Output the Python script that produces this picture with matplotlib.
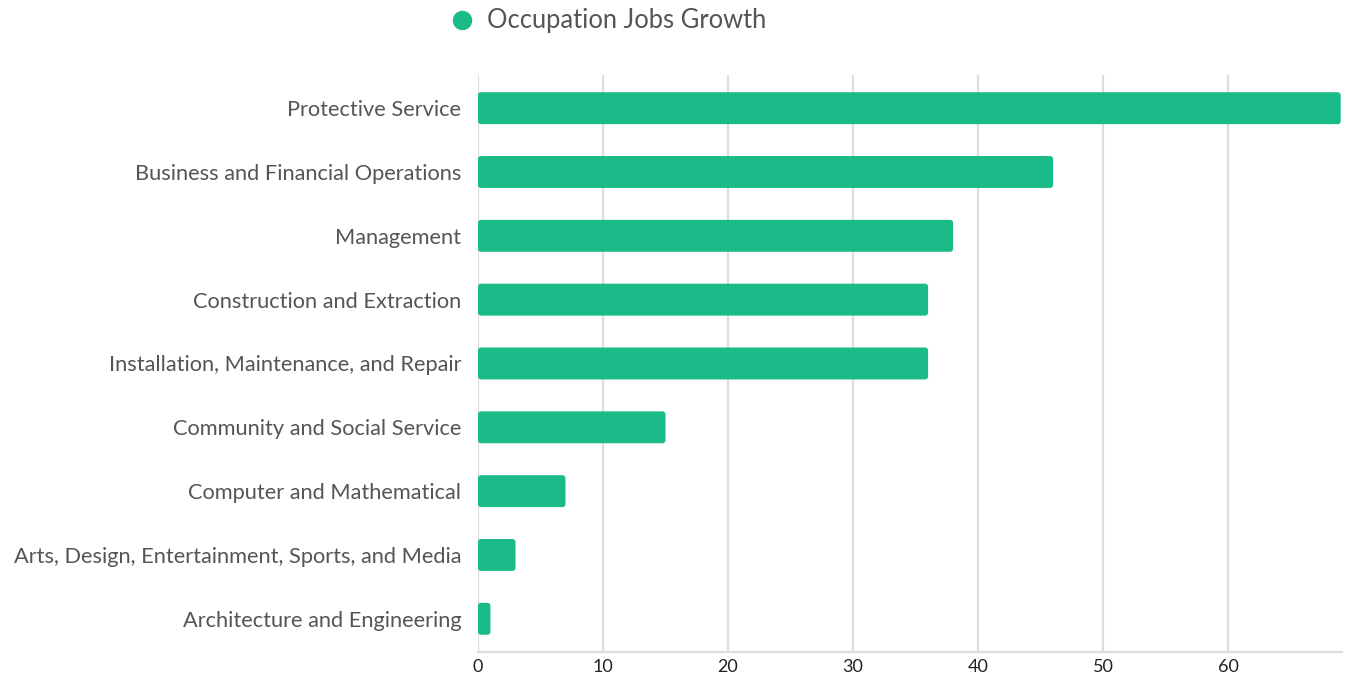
import matplotlib.pyplot as plt
from matplotlib.patches import FancyBboxPatch
from matplotlib.lines import Line2D

# data
categories = [
    "Protective Service",
    "Business and Financial Operations",
    "Management",
    "Construction and Extraction",
    "Installation, Maintenance, and Repair",
    "Community and Social Service",
    "Computer and Mathematical",
    "Arts, Design, Entertainment, Sports, and Media",
    "Architecture and Engineering",
]
growth = [69, 46, 38, 36, 36, 15, 7, 3, 1]
ticks = [0, 10, 20, 30, 40, 50, 60]

green = "#1bba89"
text_col = "#555555"
grid_col = "#dddddd"

plt.rcParams['font.family'] = ['Lato', 'DejaVu Sans']

fig = plt.figure(figsize=(13.54, 6.81), dpi=100)
ax = fig.add_axes([0.3530, 0.0426, 0.6381, 0.8473])

y = list(range(len(categories)))
bars = ax.barh(y, growth, height=0.5, color=green, zorder=3)

# swap the plain rectangles for slightly rounded ones
px_x = 12.5   # pixels per x unit
px_y = 64.0   # pixels per y unit
for r in bars:
    x0, y0 = r.get_x(), r.get_y()
    w, h = r.get_width(), r.get_height()
    r.set_visible(False)
    box = FancyBboxPatch((x0, y0), w, h,
                         boxstyle="round,pad=0,rounding_size=%f" % (3 / px_x),
                         mutation_aspect=px_x / px_y,
                         facecolor=green, edgecolor="none", zorder=3)
    ax.add_patch(box)

ax.set_xlim(0, 69.1)
ax.set_ylim(8.52, -0.52)
ax.set_yticks(y)
ax.set_yticklabels(categories, fontsize=15.7, color=text_col)
ax.set_xticks(ticks)
ax.set_xticklabels([str(t) for t in ticks], fontsize=13, color="#222222")

ax.tick_params(axis='y', length=0, pad=12)
ax.tick_params(axis='x', length=0, pad=5)

ax.grid(axis='x', color=grid_col, linewidth=1.6, zorder=0)
for s in ["top", "right", "left"]:
    ax.spines[s].set_visible(False)
ax.spines["bottom"].set_color(grid_col)
ax.spines["bottom"].set_linewidth(1.6)

# legend
fig.add_artist(Line2D([0.3412], [0.970], marker='o', markersize=13,
                      color=green, linestyle='none', transform=fig.transFigure))
fig.text(0.3597, 0.970, "Occupation Jobs Growth", fontsize=18.4, color=text_col,
         ha='left', va='center')

fig.savefig("out.png", dpi=100)
